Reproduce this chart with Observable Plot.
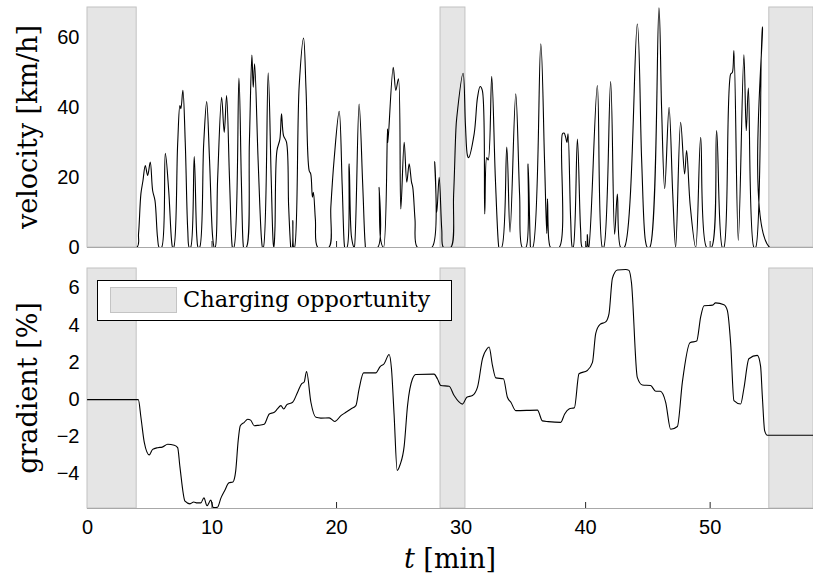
<!DOCTYPE html>
<html>
<head>
<meta charset="utf-8">
<script src="https://cdn.jsdelivr.net/npm/d3@7"></script>
<script src="https://cdn.jsdelivr.net/npm/@observablehq/plot@0.6"></script>
<style>
  html, body { margin: 0; padding: 0; background: #fff; }
  #wrap { position: relative; width: 813px; height: 580px; overflow: hidden; background: #fff; }
  #wrap svg { position: absolute; left: 0; }
  .lbl { position: absolute; font-family: "DejaVu Serif", serif; font-size: 27px; line-height: 27px; white-space: nowrap; color: #000; }
  .rot { transform: translate(-50%, -50%) rotate(-90deg); }
  #legend { position: absolute; left: 97px; top: 280px; width: 355px; height: 41px; box-sizing: border-box; border: 1px solid #000; background: #fff; }
  #swatch { position: absolute; left: 12px; top: 6px; width: 67px; height: 26px; box-sizing: border-box; background: #e5e5e5; border: 1px solid #c4c4c4; }
  #legtext { position: absolute; left: 85px; top: 5px; font-family: "DejaVu Serif", serif; font-size: 22.5px; line-height: 27px; white-space: nowrap; color: #000; }
</style>
</head>
<body>
<div id="wrap"></div>
<script>
// ---- data ----
const chgStart = [0, 28.35, 54.75];
const chgEnd = [3.95, 30.35, 58.3];
const xTicks = [0, 10, 20, 30, 40, 50];
const vTicks = [0, 20, 40, 60];
const gTicks = [-4, -2, 0, 2, 4, 6];
const xDomain = [0, 58.3];
const vDomain = [0, 68.6];
const gDomain = [-5.85, 7.05];

const tV = [0,3.96,4.1,4.29,4.45,4.64,4.83,5.04,5.23,5.42,5.62,5.76,5.95,6.25,6.52,6.75,6.84,6.92,7.24,7.42,7.5,7.66,7.85,8.05,8.17,8.28,8.57,8.78,8.89,9.0,9.33,9.57,9.8,10.05,10.18,10.25,10.45,10.77,10.98,11.17,11.4,11.6,11.65,11.75,12.16,12.35,12.5,12.55,12.75,13.0,13.2,13.31,13.42,13.7,13.98,14.06,14.12,14.51,14.75,14.92,14.97,15.05,15.21,15.45,15.58,15.74,15.98,16.15,16.3,16.33,16.42,16.49,16.56,16.62,17.0,17.35,17.55,17.8,17.93,18.06,18.14,18.3,18.5,19.38,19.54,19.8,20.21,20.45,20.62,20.67,20.83,21.01,21.2,21.41,21.43,21.81,22.1,22.3,22.35,23.3,23.42,23.55,23.77,24.09,24.12,24.55,24.76,24.97,25.16,25.43,25.64,25.83,26.02,26.12,26.3,26.5,27.65,27.89,28.05,28.24,28.45,28.59,29.17,29.4,29.58,29.65,30.16,30.35,30.51,30.6,31.05,31.32,31.53,31.7,31.9,32.06,32.18,32.46,32.75,33.0,33.05,33.25,33.67,33.93,34.39,34.7,34.92,35.2,35.38,35.55,35.6,35.75,36.4,36.7,36.88,36.94,37.05,37.2,37.87,38.14,38.27,38.4,38.5,38.59,38.8,38.94,39.0,39.34,39.6,39.74,40.05,40.14,40.22,40.25,40.94,41.35,41.45,42.01,42.33,42.55,42.82,43.1,44.15,44.5,44.8,44.96,45.15,45.89,46.1,46.35,46.7,47.0,47.23,47.63,47.95,48.11,48.4,48.84,49.24,49.72,50.1,50.52,50.98,51.1,51.65,51.78,51.91,52.26,52.71,52.9,53.07,53.52,53.65,54.19,54.78,58.3];
const vV = [0,0,4,15.4,19,23.4,20.6,24.4,16.3,13.4,3,0,0,26.9,16.3,2,0,0,29.6,40.6,39.7,44.9,30,5,0,0,26,3,0,0,29.6,41.7,25,3,0,0,19.6,42.9,32.9,43.4,20,1,0,0,48.4,20,1,0,0,30,55,45.8,52.5,25,2,0,0,49.9,20,1,0,5,27.6,31,38.2,32,30.1,12,1,0,0,7.7,0,0,46.3,59.9,45,22,21,14.4,15.8,8,0,0,11.5,25,38.9,18,1,0,0,23.9,3,0,0,41,18,1,0,0,17.2,2,0,33.9,30,51.5,44.9,48.2,11,30.1,18.7,23.9,18.7,17.2,8,0,0,24.6,10.1,20.1,5,0,0,15,33.4,37,49.8,35,26.3,25.7,32.5,42.9,46,45,9.6,25.7,25,48.9,20,1,0,0,28.7,4.4,43.9,15,0,0,23.9,2,0,0,58.2,25,4,13.9,2,0,0,32.5,32.7,31.5,30,32.5,8,0,0,31,5,0,0,3.7,0,0,46.3,0,0,47.4,3.8,15.3,0,0,63.9,25,2,0,0,68.5,40,16.8,40.1,15,0,35.8,21,27.7,12,0,31.5,0,0,33.4,0,0,49.6,50,56.3,2,55.1,33.4,45.6,0,0,63.1,0,0];

const tG = [0,4.08,4.3,4.56,4.96,5.23,5.63,6.0,6.44,6.97,7.24,7.42,7.83,8.23,8.53,8.8,9.1,9.35,9.6,9.9,10.1,10.44,10.72,11.02,11.36,11.68,11.9,12.1,12.27,12.59,12.86,13.1,13.39,13.7,14.19,14.6,15.0,15.25,15.53,15.75,16.01,16.47,16.87,17.19,17.4,17.59,17.94,18.34,18.74,19.41,19.86,20.35,20.75,21.15,21.55,21.81,22.17,23.15,23.5,23.82,24.22,24.41,24.62,24.87,25.1,25.43,25.7,26.1,26.37,27.83,28.1,28.37,29.04,29.44,30.11,30.46,30.91,31.32,31.72,32.1,32.25,32.52,32.79,33.4,33.72,34.0,34.39,36.13,36.53,37.0,38.0,38.32,38.67,39.1,39.47,40.14,40.55,40.81,41.16,41.61,41.88,42.15,42.55,43.22,43.48,43.68,44.15,44.56,45.22,45.63,46.0,46.43,46.83,47.37,47.77,48.38,48.92,49.24,49.51,50.18,50.44,51.11,51.38,51.65,51.91,52.45,52.71,53.11,53.79,54.05,54.19,54.38,54.59,58.3];
const gG = [0,0,-1.0,-2.3,-2.97,-2.67,-2.58,-2.55,-2.4,-2.45,-2.58,-3.6,-5.46,-5.6,-5.5,-5.55,-5.55,-5.28,-5.7,-5.4,-5.8,-5.78,-5.28,-4.88,-4.47,-4.42,-3.84,-2.2,-1.4,-1.22,-1.05,-1.1,-1.4,-1.38,-1.32,-0.77,-0.68,-0.5,-0.32,-0.5,-0.27,-0.14,0.4,0.85,0.95,1.51,-0.14,-0.95,-0.99,-0.98,-1.17,-0.86,-0.68,-0.5,-0.32,0.58,1.44,1.44,1.78,1.93,2.43,1.66,-0.8,-3.8,-3.5,-2.5,-0.32,1.12,1.35,1.37,1.12,0.76,0.72,0.22,-0.24,0.13,0.22,0.67,2.2,2.75,2.83,1.84,1.17,1.12,0.13,-0.14,-0.59,-0.56,-1.14,-1.18,-1.22,-0.77,-0.5,-0.43,1.39,1.57,2.0,3.55,4.05,4.18,4.63,6.52,6.97,7.0,6.95,6.3,1.2,0.79,0.76,0.45,0.45,-0.14,-1.59,-1.44,0.94,3.06,3.15,4.45,5.05,5.08,5.2,5.1,4.8,3.0,-0.05,-0.23,0.6,2.2,2.38,1.8,0.2,-1.68,-1.91,-1.91];

// ---- build ----
const fmt = d => d < 0 ? "\u2212" + Math.abs(d) : String(d);
const charging = chgStart.map((s, i) => ({ s, e: chgEnd[i] }));
const vel = tV.map((t, i) => ({ t, v: vV[i] }));
const grad = tG.map((t, i) => ({ t, g: gG[i] }));
const baseStyle = { fontFamily: "'Liberation Sans', Arial, sans-serif", fontSize: "20px", color: "#000", background: "transparent", overflow: "visible" };

const topPlot = Plot.plot({
  width: 813, height: 258, marginTop: 7, marginBottom: 11, marginLeft: 87, marginRight: 0,
  style: baseStyle,
  x: { domain: xDomain },
  y: { domain: vDomain },
  marks: [
    Plot.axisX({ ticks: xTicks, tickSize: 6, dy: -6, tickFormat: () => "", label: null, stroke: "#262626" }),
    Plot.axisY({ ticks: vTicks, tickSize: 0, tickPadding: 8, tickFormat: fmt, label: null }),
    Plot.rect(charging, { x1: "s", x2: "e", fill: "#e5e5e5", stroke: "#c2c2c2" }),
    Plot.line(vel, { x: "t", y: "v", stroke: "#000", strokeWidth: 1.1, curve: "catmull-rom", clip: true }),
    Plot.ruleY([vDomain[0]], { stroke: "#a8a8a8" })
  ]
});

const botPlot = Plot.plot({
  width: 813, height: 322, marginTop: 10, marginBottom: 72, marginLeft: 87, marginRight: 0,
  style: baseStyle,
  x: { domain: xDomain },
  y: { domain: gDomain },
  marks: [
    Plot.axisX({ ticks: xTicks, tickSize: 6, dy: -6, tickFormat: () => "", label: null, stroke: "#262626" }),
    Plot.axisX({ ticks: xTicks, tickSize: 0, tickPadding: 11, tickFormat: fmt, label: null }),
    Plot.axisY({ ticks: gTicks, tickSize: 0, tickPadding: 8, tickFormat: fmt, label: null }),
    Plot.rect(charging, { x1: "s", x2: "e", fill: "#e5e5e5", stroke: "#c2c2c2" }),
    Plot.line(grad, { x: "t", y: "g", stroke: "#000", strokeWidth: 1.1, curve: "monotone-x", clip: true }),
    Plot.ruleY([gDomain[0]], { stroke: "#a8a8a8" })
  ]
});

const wrap = document.getElementById("wrap");
topPlot.style.top = "0px";
botPlot.style.top = "258px";
wrap.appendChild(topPlot);
wrap.appendChild(botPlot);

function addLabel(html, left, top, rotate) {
  const d = document.createElement("div");
  d.className = "lbl" + (rotate ? " rot" : "");
  d.innerHTML = html;
  d.style.left = left + "px";
  d.style.top = top + "px";
  if (!rotate) d.style.transform = "translate(-50%, 0)";
  wrap.appendChild(d);
}
addLabel("velocity [km/h]", 27, 127, true);
addLabel("gradient [%]", 27, 388, true);
addLabel("<i>t</i> [min]", 450, 545, false);

const leg = document.createElement("div");
leg.id = "legend";
leg.innerHTML = '<div id="swatch"></div><div id="legtext">Charging opportunity</div>';
wrap.appendChild(leg);
</script>
</body>
</html>
